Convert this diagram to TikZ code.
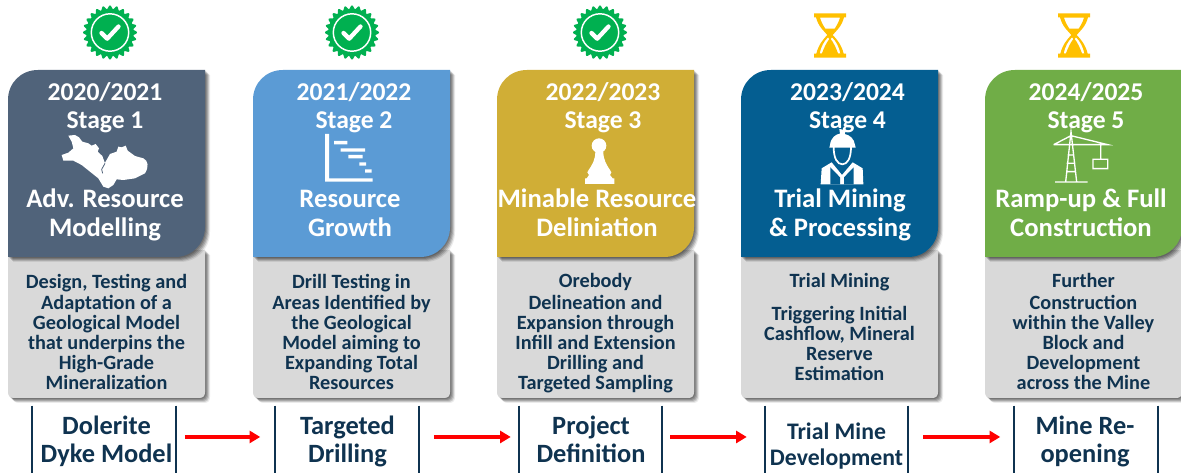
\documentclass[tikz,border=0pt]{standalone}
\usepackage{fontspec}
\setmainfont{Carlito}
\usetikzlibrary{arrows.meta}
\definecolor{navy}{HTML}{0F3350}
\definecolor{slatec}{HTML}{50637A}
\definecolor{bluec}{HTML}{5B9BD5}
\definecolor{goldc}{HTML}{D0AE36}
\definecolor{deepc}{HTML}{045E91}
\definecolor{greenc}{HTML}{70AD47}
\definecolor{bodyc}{HTML}{D9D9D9}
\definecolor{sealc}{HTML}{00B050}
\definecolor{glassc}{HTML}{FFC000}
\def\headpath{(0,100) .. controls (0,83) and (13,70) .. (30,70) -- (197,70) -- (197,227) .. controls (197,244) and (184,257) .. (167,257) -- (0,257) -- cycle}
\def\bodypath{(0,250) -- (197,250) -- (197,392) .. controls (197,396) and (195,398) .. (191,398) -- (6,398) .. controls (2,398) and (0,396) .. (0,392) -- cycle}
\newcommand{\softshadow}[1]{%
  \foreach \o/\a in {1/.16,2/.16,3/.16,4/.14,5/.08}{
    \fill[black,opacity=\a,shift={(\o,\o)}] #1;}}
\newcommand{\card}[8]{% x, colour, year cx, year, stage, title cx, title, body
  \begin{scope}[shift={(#1,0)}]
    \softshadow{\bodypath}
    \fill[bodyc] \bodypath;
    \softshadow{\headpath}
    \fill[#2] \headpath;
    \node[headtext] (year#5) at (#3,101) {#4};
    \node[headtext] (stage#5) at (#3,129) {Stage #5};
    \node[titletext] (title#5) at (#6,216.5) {\strut #7\strut};
    \node[bodytext] (body#5) at (98.5,273.5) {\strut #8\strut};
  \end{scope}}
\newcommand{\seal}[2]{%
  \begin{scope}[shift={(#1,#2)}]
    \fill[sealc] plot[domain=0:360,samples=289,smooth] (\x:{25.3+1.7*cos(24*\x)});
    \draw[white,line width=1.1] (0,0) circle (18.7);
    \draw[white,line width=3.2,line cap=round,line join=round] (-8.5,0.5) -- (-2.8,6.2) -- (8.5,-6);
  \end{scope}}
\newcommand{\glass}[1]{%
  \begin{scope}[shift={(#1,5)},x=0.25pt,y=-0.25pt]
    \fill[glassc,even odd rule] (42,25) -- (138,25) -- (138,37) -- (132,37) .. controls (125,65) and (108,78) .. (98,90)
      .. controls (110,102) and (125,120) .. (131,146) -- (138,146) -- (138,158) -- (42,158) -- (42,146) -- (49,146)
      .. controls (55,120) and (70,102) .. (82,90) .. controls (72,78) and (55,65) .. (48,37) -- (42,37) -- cycle
      (60,38) -- (120,38) .. controls (116,52) and (110,62) .. (104,71) -- (76,71) .. controls (70,62) and (64,52) .. (60,38) -- cycle
      (84,97) .. controls (72,108) and (63,125) .. (59,145) -- (66,145) .. controls (72,128) and (80,112) .. (88,102) -- cycle
      (96,97) .. controls (108,108) and (117,125) .. (121,145) -- (114,145) .. controls (108,128) and (100,112) .. (92,102) -- cycle;
  \end{scope}}
\tikzset{
  x=0.75pt,y=-0.75pt,
  headtext/.style={text=white,font=\bfseries\fontsize{19.2}{22}\selectfont,inner sep=0,anchor=base},
  titletext/.style={text=white,font=\bfseries\fontsize{20}{21.3}\selectfont,inner sep=0,align=center},
  bodytext/.style={text=navy,font=\bfseries\fontsize{15.2}{15}\selectfont,inner sep=0,align=center,anchor=north},
  labelbox/.style={minimum width=107.25pt,minimum height=50.25pt,inner sep=0},
  labeltext/.style={text=navy,font=\bfseries\fontsize{19.8}{21.2}\selectfont,inner sep=0,align=center},
  labelsmall/.style={labeltext,font=\bfseries\fontsize{17.8}{19.5}\selectfont},
  barline/.style={navy,line width=1.3pt},
  flow/.style={red,line width=3pt,-{Triangle[length=8pt,width=9pt]}},
  icon/.style={fill=white,draw=none},
}
\begin{document}
\begin{tikzpicture}
\useasboundingbox (0,0) rectangle (1181,473);
\fill[white] (0,0) rectangle (1181,473);
\seal{110}{32.5}\seal{352}{32.5}\seal{600}{32.5}
\glass{800}\glass{1044}
\card{8}{slatec}{97}{2020/2021}{1}{97}{Adv. Resource\\Modelling}{Design, Testing and\\Adaptation of a\\Geological Model\\that underpins the\\High-Grade\\Mineralization}
\card{253}{bluec}{101}{2021/2022}{2}{97}{Resource\\Growth}{Drill Testing in\\Areas Identified by\\the Geological\\Model aiming to\\Expanding Total\\Resources}
\card{497}{goldc}{106}{2022/2023}{3}{100}{Minable Resource\\Deliniation}{Orebody\\Delineation and\\Expansion through\\Infill and Extension\\Drilling and\\Targeted Sampling}
\card{741}{deepc}{106.5}{2023/2024}{4}{99}{Trial Mining\\\& Processing}{Trial Mining\\[8pt]Triggering Initial\\Cashflow, Mineral\\Reserve\\Estimation}
\card{985}{greenc}{101}{2024/2025}{5}{96}{Ramp-up \& Full\\Construction}{Further\\Construction\\within the Valley\\Block and\\Development\\across the Mine}
% map icon
\begin{scope}[shift={(55,130)},x=0.25pt,y=-0.25pt]
\fill[icon] (40,17) -- (60,15) -- (72,22) -- (82,35) -- (100,40) -- (110,47) -- (122,42) -- (132,55) -- (128,65) -- (142,78) -- (150,100) -- (148,102) -- (165,72) -- (185,65) -- (190,50) -- (200,52) -- (212,47) -- (218,62) -- (240,78) -- (265,85) .. controls (280,92) and (282,110) .. (270,130) -- (240,145) -- (205,150) -- (185,148) -- (175,165) -- (160,175) -- (145,170) -- (130,145) -- (105,125) -- (80,105) -- (55,92) -- (25,92) -- (20,75) -- (40,68) -- (55,55) -- (50,35) -- cycle;
\draw[slatec,line width=0.6pt] (150,100) -- (140,118) -- (143,130);
\end{scope}
% gantt icon
\begin{scope}[x=0.25pt,y=-0.25pt]
\fill[icon] (975,402) rectangle (987,545) (975,535) rectangle (1118,545) (1002,423) rectangle (1042,433) (1022,445) rectangle (1095,455) (1045,465) rectangle (1088,475) (1078,487) rectangle (1098,497) (1095,508) rectangle (1115,518);
\end{scope}
% pawn icon
\begin{scope}[shift={(570,130)},x=0.25pt,y=-0.25pt]
\fill[icon] (87,47) circle (22);
\fill[icon] (76,65) -- (100,65) .. controls (100,90) and (110,105) .. (120,120) -- (124,127) -- (120,135) -- (128,145) -- (133,145) -- (133,162) -- (45,162) -- (45,145) -- (50,145) -- (57,135) -- (52,127) -- (56,120) .. controls (66,105) and (76,90) .. (76,65) -- cycle;
\end{scope}
% worker icon
\begin{scope}[shift={(810,125)},x=0.25pt,y=-0.25pt]
\fill[icon] (65,112) -- (35,130) -- (32,178) -- (160,178) -- (158,130) -- (128,112) -- (96,150) -- cycle;
\fill[deepc] (61,127) -- (90,157) -- (90,178) -- (61,178) -- cycle (131,127) -- (102,157) -- (102,178) -- (131,178) -- cycle;
\draw[white,line width=1.3pt,fill=deepc] (71,66) .. controls (71,100) and (82,118) .. (97,118) .. controls (112,118) and (123,100) .. (123,66);
\fill[icon] (60,60) .. controls (62,38) and (78,27) .. (90,26) -- (88,12) -- (108,16) -- (104,27) .. controls (120,30) and (133,42) .. (135,60) -- (137,68) -- (58,68) -- cycle;
\end{scope}
% crane icon
\begin{scope}[shift={(900,0)},x=0.25pt,y=-0.25pt]
\draw[white,line width=1pt] (465,546) -- (563,546) (497,546) -- (513,395) -- (530,546)
  (461,434) -- (623,434) -- (513,407) -- (461,434)
  (503,465) -- (523,465) (500,490) -- (526,490) (498,515) -- (528,515)
  (602,434) -- (602,478) (579,478) rectangle (623,506);
\end{scope}
% lower labels
\node[labelbox] (low1) at (104,439.5) {};
\node[labelbox] (low2) at (347,439.5) {};
\node[labelbox] (low3) at (590.5,439.5) {};
\node[labelbox] (low4) at (836.5,439.5) {};
\node[labelbox] (low5) at (1086,439.5) {};
\node[labeltext] (txt1) at (106.5,442.5) {\strut Dolerite\\Dyke Model\strut};
\node[labeltext] (txt2) at (347.5,442.5) {\strut Targeted\\Drilling\strut};
\node[labeltext] (txt3) at (591,442.5) {\strut Project\\Definition\strut};
\node[labelsmall] (txt4) at (836.5,447) {\strut Trial Mine\\Development\strut};
\node[labeltext] (txt5) at (1085,442.5) {\strut Mine Re-\\opening\strut};
\foreach \n in {1,2,3,4,5}{
  \draw[barline] (low\n.north west) -- (low\n.south west);
  \draw[barline] (low\n.north east) -- (low\n.south east);
}
\draw[flow,shorten <=6.75pt,shorten >=11.25pt] ([yshift=1.9pt]low1.east) -- ([yshift=1.9pt]low2.west);
\draw[flow,shorten <=11.25pt,shorten >=6pt] ([yshift=1.9pt]low2.east) -- ([yshift=1.9pt]low3.west);
\draw[flow,shorten <=6pt,shorten >=13.5pt] ([yshift=1.9pt]low3.east) -- ([yshift=1.9pt]low4.west);
\draw[flow,shorten <=11.25pt,shorten >=10.5pt] ([yshift=1.9pt]low4.east) -- ([yshift=1.9pt]low5.west);
\end{tikzpicture}
\end{document}
